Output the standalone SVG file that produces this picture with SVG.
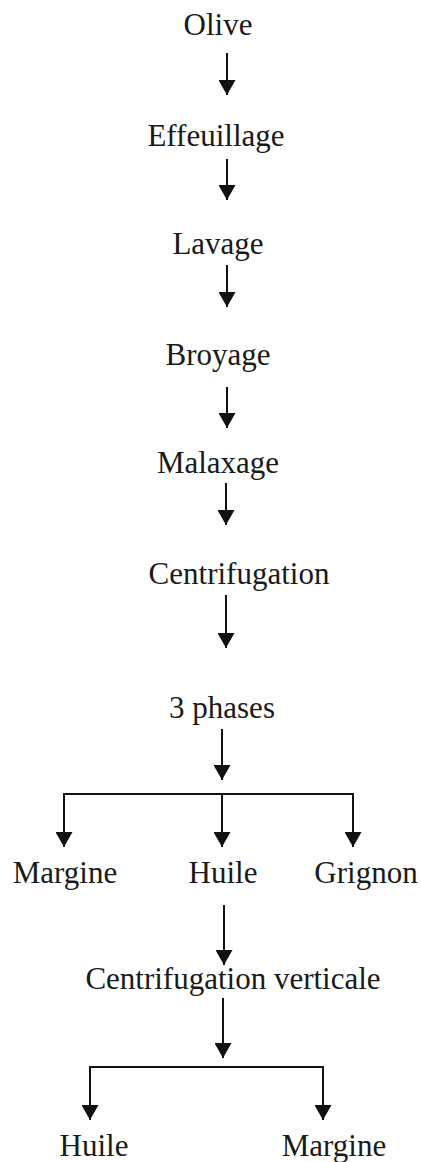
<svg xmlns="http://www.w3.org/2000/svg" width="421" height="1162" viewBox="0 0 421 1162">
<style>
text{font-family:"Liberation Serif","DejaVu Serif",serif;font-size:31px;fill:#1a1a1a;text-anchor:middle}
.c{stroke:#111;stroke-width:2;fill:none}
</style>
<defs>
<marker id="ah" viewBox="0 0 15 17" refX="15" refY="8.5" markerWidth="15" markerHeight="17" markerUnits="userSpaceOnUse" orient="auto">
<path d="M0,0 L15,8.5 L0,17 z" fill="#111"/>
</marker>
</defs>
<rect width="421" height="1162" fill="#fff"/>
<g id="n-olive"><text x="218" y="35">Olive</text></g>
<g id="n-effeuillage"><text x="216" y="146">Effeuillage</text></g>
<g id="n-lavage"><text x="218" y="254">Lavage</text></g>
<g id="n-broyage"><text x="218" y="365">Broyage</text></g>
<g id="n-malaxage"><text x="218" y="473">Malaxage</text></g>
<g id="n-centrifugation"><text x="239" y="584">Centrifugation</text></g>
<g id="n-3phases"><text x="222" y="718">3 phases</text></g>
<g id="n-margine1"><text x="65" y="883">Margine</text></g>
<g id="n-huile1"><text x="223" y="883">Huile</text></g>
<g id="n-grignon"><text x="366" y="883">Grignon</text></g>
<g id="n-centrifugation-verticale"><text x="233" y="989">Centrifugation verticale</text></g>
<g id="n-huile2"><text x="94" y="1156">Huile</text></g>
<g id="n-margine2"><text x="334" y="1156">Margine</text></g>
<g id="connectors">
<line class="c" x1="227" y1="53" x2="227" y2="95" marker-end="url(#ah)"/>
<line class="c" x1="227" y1="159" x2="227" y2="200" marker-end="url(#ah)"/>
<line class="c" x1="227" y1="265" x2="227" y2="307" marker-end="url(#ah)"/>
<line class="c" x1="227" y1="387" x2="227" y2="428" marker-end="url(#ah)"/>
<line class="c" x1="226" y1="483" x2="226" y2="525" marker-end="url(#ah)"/>
<line class="c" x1="226" y1="595" x2="226" y2="648" marker-end="url(#ah)"/>
<line class="c" x1="222" y1="729" x2="222" y2="780" marker-end="url(#ah)"/>
<path class="c" d="M64,847 V794 H353 V847" marker-end="url(#ah)"/>
<path class="c" d="M64,794 V847" marker-end="url(#ah)"/>
<line class="c" x1="222" y1="794" x2="222" y2="847" marker-end="url(#ah)"/>
<line class="c" x1="224" y1="905" x2="224" y2="965" marker-end="url(#ah)"/>
<line class="c" x1="223" y1="998" x2="223" y2="1058" marker-end="url(#ah)"/>
<path class="c" d="M90,1120 V1067 H323 V1120" marker-end="url(#ah)"/>
<path class="c" d="M90,1067 V1120" marker-end="url(#ah)"/>
</g>
</svg>
